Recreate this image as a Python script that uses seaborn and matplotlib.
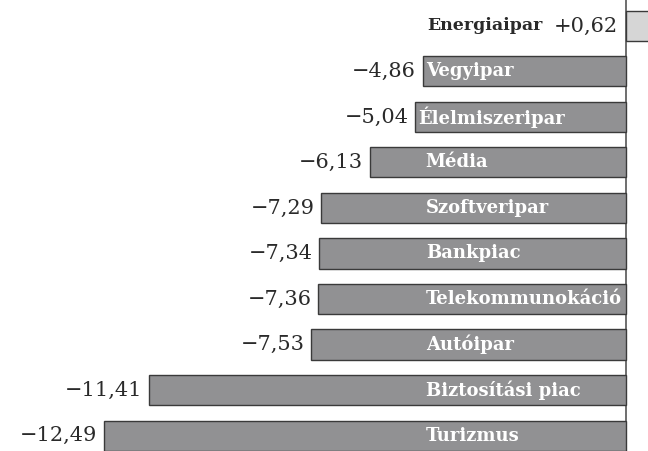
import numpy as np
import pandas as pd
import seaborn as sns
import matplotlib.pyplot as plt

# Data
sectors = ['Energiaipar', 'Vegyipar', 'Élelmiszeripar', 'Média', 'Szoftveripar',
           'Bankpiac', 'Telekommunokáció', 'Autóipar', 'Biztosítási piac', 'Turizmus']
changes = [0.62, -4.86, -5.04, -6.13, -7.29, -7.34, -7.36, -7.53, -11.41, -12.49]

df = pd.DataFrame({'sector': sectors, 'change': changes})

sns.set_style('white')
fig = plt.figure(figsize=(6.48, 4.51), dpi=100)
ax = fig.add_axes([0, 0, 1, 1])

sns.barplot(data=df, x='change', y='sector', orient='h', width=0.66,
            color='#909094', edgecolor='#3a3a3a', linewidth=1.0, ax=ax)

# positive bar is light grey
for bar, val in zip(ax.patches, df['change']):
    if val > 0:
        bar.set_facecolor('#d6d6d6')

ax.set_xlim(-14.98, 0.526)
ax.set_ylim(9.34, -0.57)
ax.axvline(0, color='#555555', lw=1.2, zorder=0)

serif = 'DejaVu Serif'
for i, (name, val) in enumerate(zip(sectors, changes)):
    txt = f'{val:+.2f}'.replace('.', ',').replace('-', '\u2212')
    if val > 0:
        ax.annotate(txt, (0, i), xytext=(-6, 0), textcoords='offset points',
                    ha='right', va='center', fontsize=15, family=serif,
                    color='#2a2a2a')
        ax.annotate(name, (0, i), xytext=(-60, 0), textcoords='offset points',
                    ha='right', va='center', fontsize=12.5, family=serif,
                    fontweight='bold', color='#2a2a2a')
    else:
        ax.annotate(txt, (val, i), xytext=(-5, 0), textcoords='offset points',
                    ha='right', va='center', fontsize=15, family=serif,
                    color='#2a2a2a')
        lx = val if val >= -5.1 else -4.86
        ax.annotate(name, (lx, i), xytext=(2, 0), textcoords='offset points',
                    ha='left', va='center', fontsize=13, family=serif,
                    fontweight='bold', color='white')

ax.axis('off')
fig.savefig('out.png', dpi=100)
